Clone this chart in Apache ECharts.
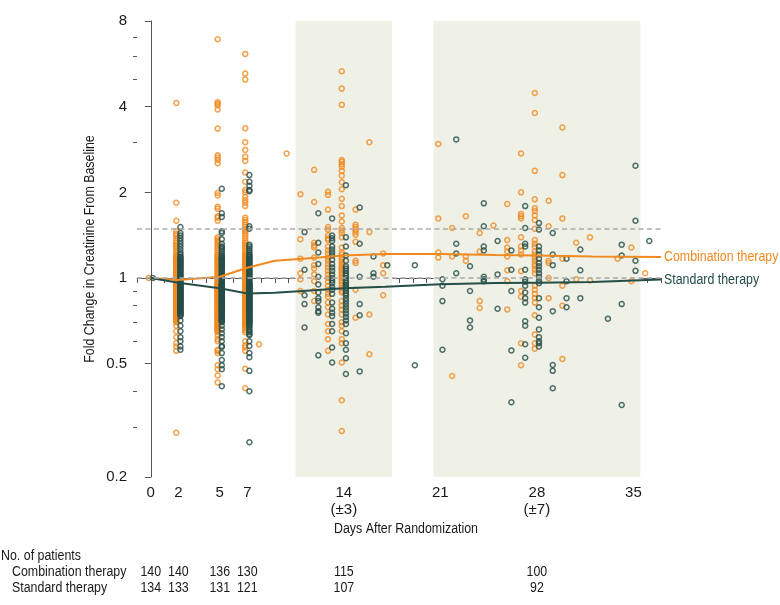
<!DOCTYPE html>
<html>
<head>
<meta charset="utf-8">
<script src="https://cdn.jsdelivr.net/npm/echarts@6/dist/echarts.min.js"></script>
<style>
  html, body { margin: 0; padding: 0; background: #fff; }
  #main { width: 780px; height: 605px; }
</style>
</head>
<body>
<div id="main"></div>
<script>
// 坐标轴刻度
const xLabelDays = [0, 2, 5, 7, 14, 21, 28, 35];
const xWindowDays = [14, 28];
const xWindowText = ['(±3)', '(±7)'];
const yLabelVals = [0.2, 0.5, 1, 2, 4, 8];
const yMinorVals = [0.3, 0.4, 0.6, 0.7, 0.8, 0.9, 3, 5, 6, 7];

// 阴影窗口和参考虚线
const windows = [[10.5, 17.5], [20.5, 35.5]];
const refLines = [1.5, 1.0];

// 每组人数
const countDays = [0, 2, 5, 7, 14, 28];
const combCounts = [140, 140, 136, 130, 115, 100];
const stdCounts = [134, 133, 131, 121, 107, 92];

// 平均趋势线
const lineDays = [0, 2, 5, 7, 9, 11, 14, 17, 21, 25, 28, 32, 37];
const combLine = [1.0, 0.985, 1.01, 1.087, 1.15, 1.17, 1.2, 1.215, 1.215, 1.205, 1.2, 1.19, 1.185];
const stdLine = [1.0, 0.963, 0.92, 0.882, 0.887, 0.9, 0.92, 0.932, 0.952, 0.96, 0.963, 0.968, 0.988];

// 联合治疗 各天的个体值
const comb0 = [1.0];
const comb2 = [4.12, 1.84, 1.59, 1.46, 1.43, 1.41, 1.38, 1.35, 1.33, 1.31, 1.29, 1.27, 1.25, 1.23, 1.21, 1.2, 1.19, 1.18,
  1.17, 1.16, 1.15, 1.14, 1.13, 1.12, 1.11, 1.1, 1.09, 1.08, 1.07, 1.06, 1.05, 1.04, 1.03, 1.02, 1.01, 1.0, 0.99, 0.98,
  0.97, 0.96, 0.955, 0.95, 0.945, 0.94, 0.935, 0.93, 0.925, 0.92, 0.915, 0.91, 0.905, 0.9, 0.895, 0.89, 0.885, 0.88,
  0.875, 0.87, 0.865, 0.86, 0.855, 0.85, 0.845, 0.84, 0.835, 0.83, 0.825, 0.82, 0.815, 0.81, 0.805, 0.8, 0.795, 0.79,
  0.785, 0.78, 0.775, 0.77, 0.765, 0.76, 0.755, 0.75, 0.745, 0.74, 0.735, 0.73, 0.725, 0.72, 0.715, 0.71, 0.705, 0.7,
  0.68, 0.65, 0.62, 0.59, 0.575, 0.555, 0.286];
const comb5 = [6.9, 4.15, 4.1, 4.05, 3.91, 3.35, 2.7, 2.65, 2.6, 2.53, 1.99, 1.95, 1.78, 1.75, 1.65, 1.63, 1.59, 1.39,
  1.37, 1.35, 1.33, 1.31, 1.29, 1.27, 1.25, 1.23, 1.21, 1.2, 1.19, 1.18, 1.17, 1.16, 1.15, 1.14, 1.13, 1.12, 1.11, 1.1,
  1.09, 1.08, 1.07, 1.06, 1.05, 1.04, 1.03, 1.02, 1.01, 1.0, 0.99, 0.98, 0.97, 0.96, 0.955, 0.95, 0.945, 0.94, 0.935,
  0.93, 0.925, 0.92, 0.915, 0.91, 0.905, 0.9, 0.895, 0.89, 0.885, 0.88, 0.875, 0.87, 0.865, 0.86, 0.855, 0.85, 0.845,
  0.84, 0.835, 0.83, 0.825, 0.82, 0.815, 0.81, 0.805, 0.8, 0.795, 0.79, 0.785, 0.78, 0.775, 0.77, 0.765, 0.76, 0.755,
  0.75, 0.745, 0.74, 0.735, 0.73, 0.725, 0.72, 0.715, 0.71, 0.705, 0.7, 0.695, 0.69, 0.685, 0.68, 0.675, 0.67, 0.665,
  0.66, 0.655, 0.65, 0.645, 0.63, 0.61, 0.6, 0.56, 0.555, 0.545, 0.494, 0.478, 0.455, 0.43];
const comb7 = [6.13, 5.23, 4.98, 3.36, 3.0, 2.82, 2.67, 2.58, 2.35, 2.18, 2.04, 2.0, 1.93, 1.88, 1.84, 1.79, 1.63, 1.6,
  1.57, 1.54, 1.51, 1.48, 1.46, 1.44, 1.41, 1.38, 1.35, 1.33, 1.31, 1.29, 1.27, 1.25, 1.23, 1.21, 1.2, 1.19, 1.18, 1.17,
  1.16, 1.15, 1.14, 1.13, 1.12, 1.11, 1.1, 1.09, 1.08, 1.07, 1.06, 1.05, 1.04, 1.03, 1.02, 1.01, 1.0, 0.99, 0.98, 0.97,
  0.96, 0.955, 0.95, 0.945, 0.94, 0.935, 0.93, 0.925, 0.92, 0.915, 0.91, 0.905, 0.9, 0.895, 0.89, 0.885, 0.88, 0.875,
  0.87, 0.865, 0.86, 0.855, 0.85, 0.845, 0.84, 0.835, 0.83, 0.825, 0.82, 0.815, 0.81, 0.805, 0.8, 0.795, 0.79, 0.785,
  0.78, 0.775, 0.77, 0.765, 0.76, 0.755, 0.75, 0.745, 0.74, 0.735, 0.73, 0.725, 0.72, 0.715, 0.71, 0.705, 0.7, 0.695,
  0.69, 0.685, 0.68, 0.675, 0.665, 0.655, 0.645, 0.6, 0.58, 0.57, 0.555, 0.48, 0.41];
const combLate = [
  [8, [0.585]], [10, [2.74]],
  [11, [1.97, 1.37, 1.17, 1.04, 0.99, 0.9]],
  [12, [2.4, 1.85, 1.33, 1.3, 1.28, 1.18, 1.11, 1.08, 1.03, 0.975, 0.9, 0.83]],
  [13, [2.01, 1.96, 1.74, 1.51, 1.48, 1.41, 1.38, 1.36, 1.29, 1.25, 1.22, 1.18, 1.15, 1.12, 1.09, 1.06, 1.03, 1.0,
    0.97, 0.94, 0.91, 0.88, 0.86, 0.82, 0.79, 0.745, 0.69, 0.65, 0.61, 0.555]],
  [14, [5.33, 4.63, 4.06, 2.6, 2.56, 2.51, 2.46, 2.38, 2.29, 2.17, 2.05, 1.9, 1.79, 1.66, 1.58, 1.5, 1.47, 1.44, 1.39,
    1.28, 1.23, 1.21, 1.18, 1.16, 1.14, 1.12, 1.1, 1.08, 1.07, 1.05, 1.03, 1.01, 1.0, 0.98, 0.96, 0.94, 0.92, 0.9, 0.89,
    0.83, 0.8, 0.776, 0.745, 0.7, 0.68, 0.65, 0.61, 0.59, 0.505, 0.372, 0.29]],
  [15, [1.74, 1.54, 1.51, 1.48, 1.45, 1.42, 1.34, 1.15, 1.13, 0.91, 0.725]],
  [16, [3.0, 1.45, 0.745, 0.54]],
  [17, [1.22, 1.11, 1.04, 0.87]],
  [21, [2.96, 1.62, 1.23, 1.18]],
  [22, [1.5, 1.19, 0.453]],
  [23, [1.65, 1.19, 1.15]],
  [24, [1.44, 1.24, 0.83, 0.785]],
  [25, [1.53]],
  [26, [1.82, 1.36, 1.28, 1.24, 1.19, 1.065, 0.975, 0.776]],
  [27, [2.74, 2.0, 1.68, 1.65, 1.62, 1.39, 1.29, 1.25, 1.21, 1.056, 0.9, 0.86, 0.59, 0.494]],
  [28, [4.47, 3.8, 2.38, 1.89, 1.76, 1.72, 1.66, 1.6, 1.49, 1.36, 1.32, 1.29, 1.24, 1.21, 1.18, 1.15, 1.12, 1.1, 1.07,
    1.04, 0.94, 0.91, 0.88, 0.85, 0.82, 0.74, 0.634, 0.59, 0.565]],
  [29, [1.87, 1.52, 1.15, 1.13, 1.0, 0.85]],
  [30, [3.38, 2.3, 1.62, 1.17, 0.94, 0.8, 0.52]],
  [31, [1.33, 0.99]],
  [32, [1.39, 0.98]],
  [34, [1.17]],
  [35, [1.28, 0.975]],
  [36, [1.04]]
];

// 标准治疗 各天的个体值
const std0 = [1.0];
const std2 = [1.51, 1.44, 1.41, 1.38, 1.35, 1.32, 1.29, 1.26, 1.23, 1.21, 1.19, 1.18, 1.17, 1.16, 1.15, 1.14, 1.13, 1.12,
  1.11, 1.1, 1.09, 1.08, 1.07, 1.06, 1.05, 1.04, 1.03, 1.02, 1.01, 1.0, 0.99, 0.98, 0.97, 0.96, 0.955, 0.95, 0.945, 0.94,
  0.935, 0.93, 0.925, 0.92, 0.915, 0.91, 0.905, 0.9, 0.895, 0.89, 0.885, 0.88, 0.875, 0.87, 0.865, 0.86, 0.855, 0.85,
  0.845, 0.84, 0.835, 0.83, 0.825, 0.82, 0.815, 0.81, 0.805, 0.8, 0.795, 0.79, 0.785, 0.78, 0.775, 0.77, 0.765, 0.76,
  0.755, 0.75, 0.745, 0.74, 0.735, 0.71, 0.68, 0.65, 0.62, 0.6, 0.575, 0.56];
const std5 = [2.06, 1.69, 1.64, 1.46, 1.44, 1.37, 1.32, 1.29, 1.28, 1.26, 1.24, 1.22, 1.2, 1.19, 1.18, 1.17, 1.16, 1.15,
  1.14, 1.13, 1.12, 1.11, 1.1, 1.09, 1.08, 1.07, 1.06, 1.05, 1.04, 1.03, 1.02, 1.01, 1.0, 0.99, 0.98, 0.97, 0.96, 0.955,
  0.95, 0.945, 0.94, 0.935, 0.93, 0.925, 0.92, 0.915, 0.91, 0.905, 0.9, 0.895, 0.89, 0.885, 0.88, 0.875, 0.87, 0.865,
  0.86, 0.855, 0.85, 0.845, 0.84, 0.835, 0.83, 0.825, 0.82, 0.815, 0.81, 0.805, 0.8, 0.795, 0.79, 0.785, 0.78, 0.775,
  0.77, 0.765, 0.76, 0.755, 0.75, 0.745, 0.74, 0.735, 0.73, 0.725, 0.72, 0.715, 0.71, 0.705, 0.7, 0.68, 0.66, 0.64,
  0.62, 0.6, 0.577, 0.573, 0.545, 0.515, 0.494, 0.478, 0.417];
const std7 = [2.3, 2.18, 2.11, 2.04, 2.02, 1.52, 1.49, 1.31, 1.29, 1.27, 1.25, 1.23, 1.21, 1.2, 1.19, 1.18, 1.17, 1.16,
  1.15, 1.14, 1.13, 1.12, 1.11, 1.1, 1.09, 1.08, 1.07, 1.06, 1.05, 1.04, 1.03, 1.02, 1.01, 1.0, 0.99, 0.98, 0.97, 0.96,
  0.955, 0.95, 0.945, 0.94, 0.935, 0.93, 0.925, 0.92, 0.915, 0.91, 0.905, 0.9, 0.895, 0.89, 0.885, 0.88, 0.875, 0.87,
  0.865, 0.86, 0.855, 0.85, 0.845, 0.84, 0.835, 0.83, 0.825, 0.82, 0.815, 0.81, 0.805, 0.8, 0.795, 0.79, 0.785, 0.78,
  0.775, 0.77, 0.765, 0.76, 0.755, 0.75, 0.745, 0.74, 0.735, 0.73, 0.725, 0.72, 0.715, 0.71, 0.705, 0.7, 0.695, 0.69,
  0.685, 0.68, 0.67, 0.66, 0.65, 0.645, 0.635, 0.63, 0.6, 0.577, 0.545, 0.527, 0.472, 0.4, 0.265];
const stdLate = [
  [11, [1.45, 1.07, 0.87, 0.81, 0.67]],
  [12, [1.69, 1.33, 1.23, 1.12, 1.01, 0.95, 0.89, 0.85, 0.83, 0.79, 0.765, 0.755, 0.535]],
  [13, [1.62, 1.41, 1.38, 1.35, 1.29, 1.26, 1.23, 1.2, 1.16, 1.12, 1.09, 1.06, 1.03, 1.0, 0.98, 0.96, 0.93, 0.91, 0.88,
    0.82, 0.78, 0.755, 0.735, 0.69, 0.65, 0.57, 0.505]],
  [14, [2.12, 1.39, 1.29, 1.2, 1.15, 1.1, 1.08, 1.06, 1.04, 1.02, 1.0, 0.98, 0.965, 0.95, 0.935, 0.92, 0.9, 0.885, 0.87,
    0.85, 0.83, 0.81, 0.79, 0.77, 0.75, 0.73, 0.71, 0.69, 0.64, 0.59, 0.56, 0.523, 0.46]],
  [15, [1.77, 1.32, 1.01, 0.81, 0.74, 0.47]],
  [16, [1.19, 1.04, 1.01]],
  [17, [1.11]],
  [19, [1.11, 0.494]],
  [21, [0.99, 0.94, 0.83, 0.56]],
  [22, [3.07, 1.32, 1.22, 1.04]],
  [23, [1.1, 0.9, 0.71, 0.67]],
  [24, [1.83, 1.52, 1.29, 1.25, 1.01, 0.99, 0.975]],
  [25, [1.35, 1.03, 0.78]],
  [26, [1.25, 1.07, 0.9, 0.557, 0.366]],
  [27, [1.79, 1.5, 1.32, 1.29, 1.07, 0.99, 0.97, 0.94, 0.89, 0.85, 0.82, 0.705, 0.68, 0.585, 0.525]],
  [28, [1.56, 1.48, 1.29, 1.25, 1.21, 1.17, 1.13, 1.1, 1.07, 1.04, 1.01, 0.98, 0.96, 0.85, 0.79, 0.725, 0.66, 0.62,
    0.6, 0.59, 0.575]],
  [29, [1.44, 1.21, 1.11, 0.765, 0.495, 0.472, 0.41]],
  [30, [1.17, 0.975, 0.85, 0.79]],
  [31, [1.26, 1.065, 0.85]],
  [33, [0.72]],
  [34, [1.31, 1.2, 0.81, 0.358]],
  [35, [2.48, 1.59, 1.15, 1.06]],
  [36, [1.35]]
];

const ORANGE = '#F08A20';
const GREEN = '#244E48';
const FONT = "'Liberation Sans', Arial, sans-serif";
const NARROW = 0.8;    // 模拟窄体字
const OFF = 0.15;      // 两组点左右错开

function lg(v) { return Math.log2(v); }

function buildPoints(groups, late, off) {
  let out = [];
  groups.forEach(g => g[1].forEach(v => out.push([g[0] + off, lg(v)])));
  late.forEach(g => g[1].forEach(v => out.push([g[0] + off, lg(v)])));
  return out;
}

const combPts = buildPoints([[0, comb0], [2, comb2], [5, comb5], [7, comb7]], combLate, -OFF);
const stdPts = buildPoints([[0, std0], [2, std2], [5, std5], [7, std7]], stdLate, OFF);

const chart = echarts.init(document.getElementById('main'), null, {renderer: 'canvas'});

function scatterStyle(color) {
  return {
    type: 'scatter',
    symbol: 'circle',
    symbolSize: 5,
    itemStyle: {color: 'rgba(255,255,255,0)', borderColor: color, borderWidth: 1.5},
    z: 2
  };
}

const option = {
  animation: false,
  backgroundColor: '#ffffff',
  grid: {left: 137, top: 21, right: 119, bottom: 128},
  xAxis: {
    type: 'value',
    min: -1,
    max: 37,
    interval: 1,
    axisLine: {lineStyle: {color: '#555', width: 1}},
    axisTick: {length: 5, lineStyle: {color: '#555'}},
    splitLine: {show: false},
    axisLabel: {
      margin: 7,
      color: '#1a1a1a',
      fontSize: 15,
      fontFamily: FONT,
      lineHeight: 17,
      formatter: function (v) {
        if (xLabelDays.indexOf(v) < 0) return '';
        const k = xWindowDays.indexOf(v);
        return k < 0 ? String(v) : v + '\n' + xWindowText[k];
      }
    }
  },
  yAxis: [
    {
      type: 'value',
      min: lg(0.2),
      max: lg(8),
      axisLine: {show: true, lineStyle: {color: '#555', width: 1}},
      axisTick: {show: true, length: 6, customValues: yLabelVals.map(lg), lineStyle: {color: '#555'}},
      splitLine: {show: false},
      axisLabel: {
        customValues: yLabelVals.map(lg),
        margin: 10,
        color: '#1a1a1a',
        fontSize: 15,
        fontFamily: FONT,
        formatter: v => String(Math.round(Math.pow(2, v) * 10) / 10)
      }
    },
    {
      type: 'value',
      min: lg(0.2),
      max: lg(8),
      position: 'left',
      axisLine: {show: false},
      axisTick: {show: true, length: 4, customValues: yMinorVals.map(lg), lineStyle: {color: '#555'}},
      axisLabel: {show: false},
      splitLine: {show: false}
    }
  ],
  series: [
    {
      type: 'line',
      data: [],
      z: 1,
      silent: true,
      markArea: {
        silent: true,
        itemStyle: {color: '#EFF1E6'},
        data: windows.map(w => [{xAxis: w[0]}, {xAxis: w[1]}])
      },
      markLine: {
        silent: true,
        symbol: 'none',
        label: {show: false},
        lineStyle: {color: '#ABABAB', type: [5, 3.5], width: 1.5},
        data: refLines.map(v => ({yAxis: lg(v)}))
      }
    },
    Object.assign(scatterStyle(ORANGE), {name: 'comb-points', data: combPts}),
    Object.assign(scatterStyle(GREEN), {name: 'std-points', data: stdPts}),
    {
      name: 'Combination therapy',
      type: 'line',
      data: lineDays.map((d, i) => [d, lg(combLine[i])]),
      showSymbol: false,
      lineStyle: {color: ORANGE, width: 2},
      z: 3
    },
    {
      name: 'Standard therapy',
      type: 'line',
      data: lineDays.map((d, i) => [d, lg(stdLine[i])]),
      showSymbol: false,
      lineStyle: {color: GREEN, width: 2},
      z: 3
    }
  ]
};

chart.setOption(option);

// 坐标轴标题、线条标注和人数表
const txt = (x, y, s, align, extra, color) => Object.assign({
  type: 'text', x: x, y: y, scaleX: NARROW,
  style: {text: s, fill: color || '#1a1a1a', font: '15.5px ' + FONT, textAlign: align || 'left', textVerticalAlign: 'middle'}
}, extra || {});

const lastDay = lineDays[lineDays.length - 1];
const endX = chart.convertToPixel({xAxisIndex: 0}, lastDay) + 3;
const combEndY = chart.convertToPixel({yAxisIndex: 0}, lg(combLine[combLine.length - 1]));
const stdEndY = chart.convertToPixel({yAxisIndex: 0}, lg(stdLine[stdLine.length - 1]));

let graphics = [
  txt(90, 249, 'Fold Change in Creatinine From Baseline', 'center', {rotation: Math.PI / 2}),
  txt(406, 529, 'Days After Randomization', 'center'),
  txt(endX, combEndY, 'Combination therapy', 'left', null, ORANGE),
  txt(endX, stdEndY, 'Standard therapy', 'left', null, GREEN),
  txt(1, 556, 'No. of patients'),
  txt(12, 572, 'Combination therapy'),
  txt(12, 588, 'Standard therapy')
];
countDays.forEach((d, i) => {
  const x = chart.convertToPixel({xAxisIndex: 0}, d);
  graphics.push(txt(x, 572, String(combCounts[i]), 'center'));
  graphics.push(txt(x, 588, String(stdCounts[i]), 'center'));
});
chart.setOption({graphic: graphics});
</script>
</body>
</html>
